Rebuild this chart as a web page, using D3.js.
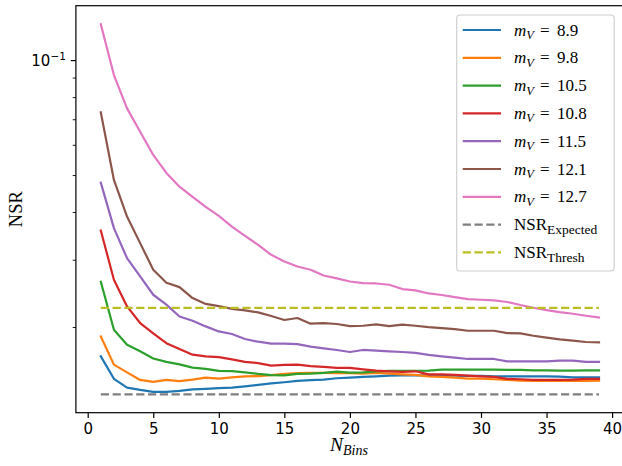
<!DOCTYPE html>
<html><head><meta charset="utf-8">
<script src="https://cdn.jsdelivr.net/npm/d3@7/dist/d3.min.js"></script>
<style>body{margin:0;background:#fff}svg{display:block}</style>
</head><body><svg id="c" width="622" height="466"></svg>
<script>
// ---- data ----
const nBins = d3.range(1, 40);
const magnitudes = ["8.9", "9.8", "10.5", "10.8", "11.5", "12.1", "12.7"];
const nsr_8_9 = [0.01675,0.01463,0.01387,0.01368,0.01352,0.01352,0.01361,0.01373,0.01377,0.01383,0.01387,0.01398,0.01410,0.01423,0.01433,0.01445,0.01451,0.01456,0.01468,0.01474,0.01480,0.01485,0.01492,0.01494,0.01494,0.01494,0.01492,0.01492,0.01489,0.01489,0.01485,0.01485,0.01485,0.01485,0.01485,0.01483,0.01476,0.01476,0.01476];
const nsr_9_8 = [0.01889,0.01594,0.01521,0.01453,0.01436,0.01454,0.01443,0.01456,0.01474,0.01465,0.01476,0.01485,0.01487,0.01496,0.01507,0.01514,0.01516,0.01516,0.01513,0.01513,0.01510,0.01516,0.01510,0.01503,0.01498,0.01485,0.01480,0.01474,0.01465,0.01465,0.01459,0.01453,0.01447,0.01445,0.01445,0.01445,0.01445,0.01445,0.01447];
const nsr_10_5 = [0.02627,0.01967,0.01797,0.01727,0.01654,0.01621,0.01596,0.01565,0.01554,0.01534,0.01532,0.01521,0.01507,0.01496,0.01494,0.01507,0.01510,0.01516,0.01528,0.01519,0.01521,0.01530,0.01534,0.01534,0.01534,0.01537,0.01546,0.01546,0.01546,0.01546,0.01546,0.01544,0.01544,0.01539,0.01539,0.01537,0.01537,0.01539,0.01539];
const nsr_10_8 = [0.03577,0.02659,0.02264,0.02048,0.01924,0.01814,0.01752,0.01692,0.01675,0.01667,0.01645,0.01621,0.01608,0.01584,0.01591,0.01594,0.01580,0.01572,0.01563,0.01563,0.01549,0.01537,0.01531,0.01525,0.01531,0.01503,0.01503,0.01498,0.01492,0.01485,0.01480,0.01462,0.01459,0.01453,0.01453,0.01453,0.01456,0.01462,0.01462];
const nsr_11_5 = [0.04775,0.03630,0.03029,0.02712,0.02429,0.02288,0.02131,0.02077,0.02007,0.01947,0.01917,0.01860,0.01830,0.01808,0.01808,0.01803,0.01776,0.01758,0.01741,0.01720,0.01741,0.01734,0.01727,0.01720,0.01710,0.01690,0.01675,0.01662,0.01649,0.01649,0.01649,0.01626,0.01626,0.01626,0.01626,0.01633,0.01633,0.01620,0.01620];
const nsr_12_1 = [0.07297,0.04854,0.03892,0.03316,0.02824,0.02611,0.02544,0.02381,0.02298,0.02269,0.02230,0.02210,0.02184,0.02137,0.02086,0.02111,0.02040,0.02048,0.02036,0.02011,0.02015,0.02031,0.02011,0.02028,0.02015,0.01999,0.01987,0.01975,0.01955,0.01955,0.01955,0.01928,0.01924,0.01897,0.01875,0.01856,0.01841,0.01827,0.01823];
const nsr_12_7 = [0.1242,0.09137,0.07475,0.06494,0.05644,0.05063,0.04662,0.04383,0.04126,0.03909,0.03665,0.03465,0.03282,0.03090,0.02969,0.02881,0.02824,0.02728,0.02680,0.02631,0.02606,0.02600,0.02580,0.02514,0.02493,0.02448,0.02425,0.02395,0.02367,0.02357,0.02347,0.02325,0.02283,0.02246,0.02215,0.02188,0.02166,0.02140,0.02118];
const nsrExpected = 0.01332;
const nsrThresh = 0.02243;
const xTicks = [0, 5, 10, 15, 20, 25, 30, 35, 40];
const yMajorTicks = [0.1];
const yMinorTicks = [0.02, 0.03, 0.04, 0.05, 0.06, 0.07, 0.08, 0.09];

const seriesValues = [nsr_8_9, nsr_9_8, nsr_10_5, nsr_10_8, nsr_11_5, nsr_12_1, nsr_12_7];
const colors = ["#1f77b4", "#ff7f0e", "#2ca02c", "#d62728", "#9467bd", "#8c564b", "#e377c2"];

// ---- layout ----
const L = 75.9, R = 623.9, T = 5.7, B = 412.7;
const svg = d3.select("#c");
const x = d3.scaleLinear().domain([-0.9, 40.9]).range([L, R]);
const y = d3.scaleLog().domain([Math.pow(10, -1.9235), Math.pow(10, -0.8575)]).range([B, T]);

svg.append("defs").append("clipPath").attr("id", "clip")
  .append("rect").attr("x", L).attr("y", T).attr("width", R - L).attr("height", B - T);

const plot = svg.append("g").attr("clip-path", "url(#clip)");
const line = d3.line().x((d, i) => x(nBins[i])).y(d => y(d));

seriesValues.forEach((vals, k) => {
  plot.append("path").datum(vals).attr("d", line)
    .attr("fill", "none").attr("stroke", colors[k]).attr("stroke-width", 2.2)
    .attr("stroke-linejoin", "round").attr("stroke-linecap", "square");
});
const dashLine = v => d3.line().x(d => x(d)).y(() => y(v));
plot.append("path").datum([nBins[0], nBins[nBins.length - 1]]).attr("d", dashLine(nsrExpected))
  .attr("fill", "none").attr("stroke", "#7f7f7f").attr("stroke-width", 2.2).attr("stroke-dasharray", "8.2,3.6");
plot.append("path").datum([nBins[0], nBins[nBins.length - 1]]).attr("d", dashLine(nsrThresh))
  .attr("fill", "none").attr("stroke", "#bcbd22").attr("stroke-width", 2.2).attr("stroke-dasharray", "8.2,3.6");

// ---- axes ----
const xAxis = d3.axisBottom(x).tickValues(xTicks).tickSize(5.2).tickPadding(5).tickFormat(d3.format("d"));
const gx = svg.append("g").attr("transform", `translate(0,${B})`).call(xAxis);
gx.select(".domain").remove();
gx.selectAll("line").attr("stroke", "#000").attr("stroke-width", 1.2);
gx.selectAll("text").attr("font-family", "DejaVu Sans").attr("font-size", 15).attr("fill", "#000");

const yAxisMinor = d3.axisLeft(y).tickValues(yMinorTicks).tickSize(3.2).tickFormat("");
const gyMin = svg.append("g").attr("transform", `translate(${L},0)`).call(yAxisMinor);
gyMin.select(".domain").remove();
gyMin.selectAll("line").attr("stroke", "#000").attr("stroke-width", 0.9);

const yAxisMajor = d3.axisLeft(y).tickValues(yMajorTicks).tickSize(5.2).tickPadding(5).tickFormat("");
const gy = svg.append("g").attr("transform", `translate(${L},0)`).call(yAxisMajor);
gy.select(".domain").remove();
gy.selectAll("line").attr("stroke", "#000").attr("stroke-width", 1.2);
gy.selectAll(".tick").each(function(d) {
  const t = d3.select(this).append("text").attr("x", -10).attr("dy", "0.35em")
    .attr("text-anchor", "end").attr("font-family", "DejaVu Sans").attr("font-size", 15).attr("fill", "#000");
  const e = Math.round(Math.log10(d));
  t.append("tspan").text("10");
  t.append("tspan").attr("font-size", 10.5).attr("dy", "-0.55em").text("\u2212" + Math.abs(e));
});

// spines
svg.append("rect").attr("x", L).attr("y", T).attr("width", R - L).attr("height", B - T)
  .attr("fill", "none").attr("stroke", "#000").attr("stroke-width", 1.2);

// axis labels
svg.append("text").attr("transform", `translate(22,${(T + B) / 2}) rotate(-90)`)
  .attr("text-anchor", "middle").attr("font-family", "Liberation Serif").attr("font-size", 18.5)
  .attr("fill", "#000").text("NSR");
const xl = svg.append("text").attr("x", 349).attr("y", 451).attr("text-anchor", "middle")
  .attr("font-family", "Liberation Serif").attr("font-style", "italic").attr("font-size", 19.5).attr("fill", "#000");
xl.append("tspan").text("N");
xl.append("tspan").attr("font-size", 14).attr("dy", 4).text("Bins");

// ---- legend ----
const lg = svg.append("g");
const legX = 456.7, legY = 15, legW = 157.5, legH = 256;
lg.append("rect").attr("x", legX).attr("y", legY).attr("width", legW).attr("height", legH)
  .attr("rx", 3.5).attr("fill", "#fff").attr("fill-opacity", 0.8).attr("stroke", "#cccccc").attr("stroke-width", 1.1);
const legendItems = magnitudes.map((m, k) => ({type: "m", label: m, color: colors[k], dash: null}))
  .concat([{type: "n", label: "Expected", color: "#7f7f7f", dash: "8.2,3.6"},
           {type: "n", label: "Thresh", color: "#bcbd22", dash: "8.2,3.6"}]);
legendItems.forEach((it, i) => {
  const cy = 30 + i * 27.8;
  lg.append("line").attr("x1", 462.7).attr("x2", 501).attr("y1", cy).attr("y2", cy)
    .attr("stroke", it.color).attr("stroke-width", 2.2).attr("stroke-dasharray", it.dash);
  const t = lg.append("text").attr("x", 514).attr("y", cy + 5.5)
    .attr("font-family", "Liberation Serif").attr("font-size", 17).attr("fill", "#000");
  if (it.type === "m") {
    t.append("tspan").attr("font-style", "italic").text("m");
    t.append("tspan").attr("font-style", "italic").attr("font-size", 12.5).attr("dy", 3.5).text("V");
    t.append("tspan").attr("x", 540).attr("dy", -3.5).text("=");
    t.append("tspan").attr("x", 557).text(it.label);
  } else {
    t.append("tspan").text("NSR");
    t.append("tspan").attr("font-size", 13.5).attr("dy", 4).text(it.label);
  }
});
</script></body></html>
